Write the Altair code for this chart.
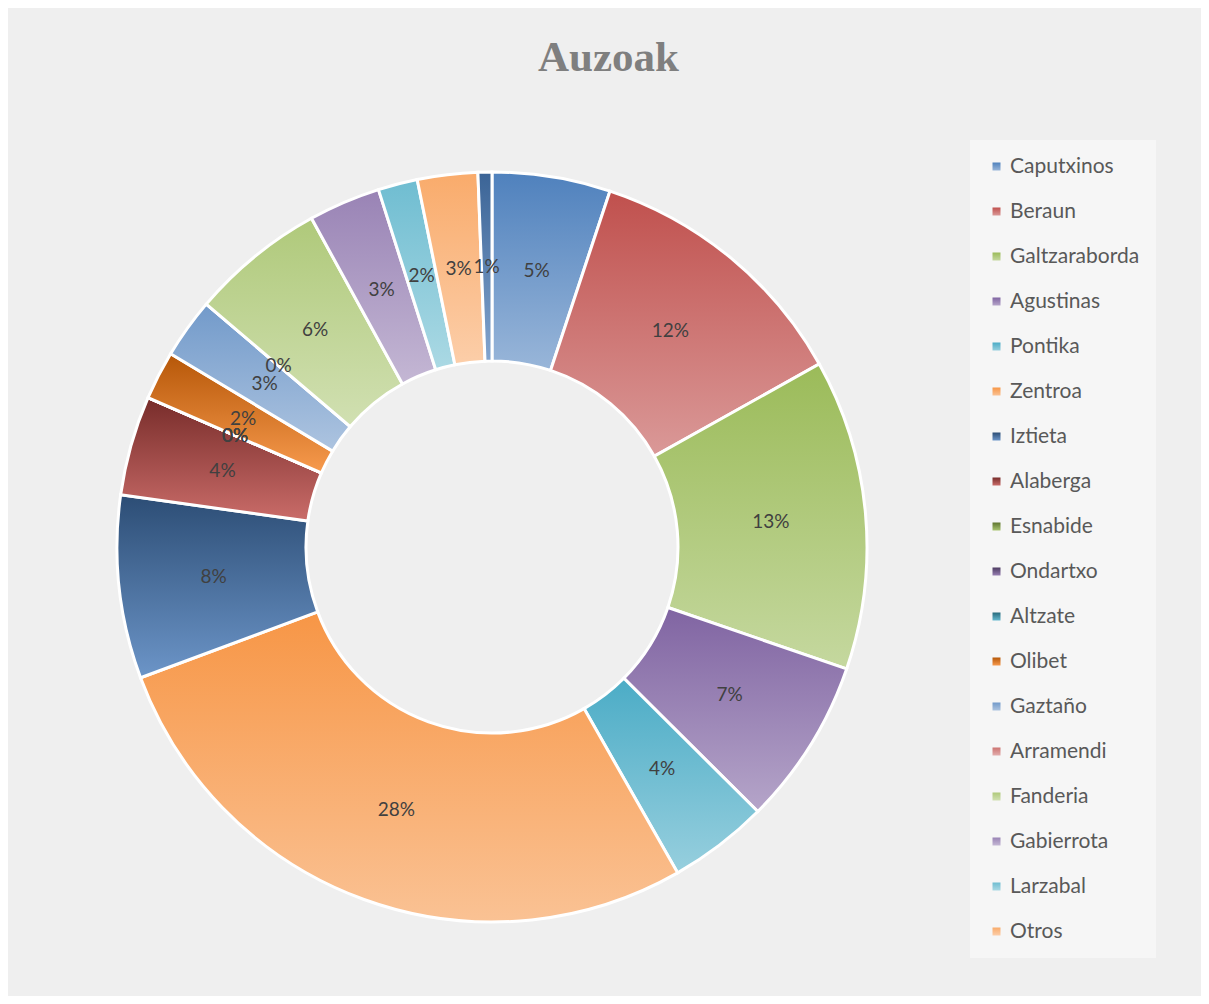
import colorsys
import altair as alt
import pandas as pd

categories = ["Caputxinos", "Beraun", "Galtzaraborda", "Agustinas", "Pontika", "Zentroa",
              "Iztieta", "Alaberga", "Esnabide", "Ondartxo", "Altzate", "Olibet",
              "Gaztaño", "Arramendi", "Fanderia", "Gabierrota", "Larzabal", "Otros", "Besteak"]
values = [5.1, 11.8, 13.4, 7.2, 4.3, 27.6, 7.9, 4.3, 0, 0, 0, 2.1, 2.6, 0, 5.8, 3.1, 1.7, 2.6, 0.6]
base_colors = ["#4F81BD", "#C0504D", "#9BBB59", "#8064A2", "#4BACC6", "#F79646",
               "#2C4D75", "#772C2A", "#5F7530", "#4D3B62", "#276A7C", "#B65708",
               "#729ACA", "#CD7371", "#AFC97A", "#9983B5", "#6FBDD1", "#F9AB6B", "#3B6496"]
legend_values = categories[:18]


def lighten(hex_color, f=0.42):
    h = hex_color.lstrip("#")
    r, g, b = [int(h[i:i + 2], 16) / 255 for i in (0, 2, 4)]
    hh, ll, ss = colorsys.rgb_to_hls(r, g, b)
    ll = ll + (1 - ll) * f
    r, g, b = colorsys.hls_to_rgb(hh, ll, ss)
    return "#" + "".join(f"{round(c * 255):02X}" for c in (r, g, b))


def gradient_expr(c):
    t = lighten(c)
    return {"expr": "{gradient:'linear',x1:0,y1:0,x2:0,y2:1,stops:["
                    f"{{offset:0,color:'{c}'}},{{offset:1,color:'{t}'}}]}}"}


df = pd.DataFrame({"cat": categories, "value": values, "order": list(range(len(categories)))})

CX, CY = 484, 539

base = alt.Chart(df).transform_calculate(pct="datum.value / 100").encode(
    theta=alt.Theta("value:Q", stack=True),
    order=alt.Order("order:Q"),
)

arcs = base.mark_arc(radius=375, radius2=186, stroke="white", strokeWidth=3, x=CX, y=CY).encode(
    color=alt.Color(
        "cat:N",
        scale=alt.Scale(domain=categories, range=[gradient_expr(c) for c in base_colors]),
        legend=alt.Legend(
            values=legend_values, title=None, orient="none", legendX=962, legendY=132,
            symbolType="square", symbolSize=64, symbolStrokeWidth=0,
            labelFont="Lato", labelFontSize=21, labelColor="#595959",
            rowPadding=23, padding=16, labelOffset=3, fillColor="rgba(255,255,255,0.45)",
        ),
    )
)

labels = base.mark_text(radius=280, x=CX, y=CY, font="Lato", fontSize=19, color="#404040").encode(
    text=alt.Text("pct:Q", format=".0%"),
    detail="cat:N",
)

chart = alt.layer(arcs, labels).properties(
    width=1193, height=988,
    autosize=alt.AutoSizeParams(type="none"),
    padding=0,
    background="#efefef",
    title=alt.Title("Auzoak", font="Liberation Serif", fontSize=43, fontWeight="bold",
                    color="#7F7F7F", anchor="middle", frame="group", baseline="alphabetic",
                    offset=0, dy=106, dx=4),
).configure_view(stroke="#d0d0d0", strokeWidth=2)

chart.save("out.html", embed_options={"renderer": "svg", "actions": False})
